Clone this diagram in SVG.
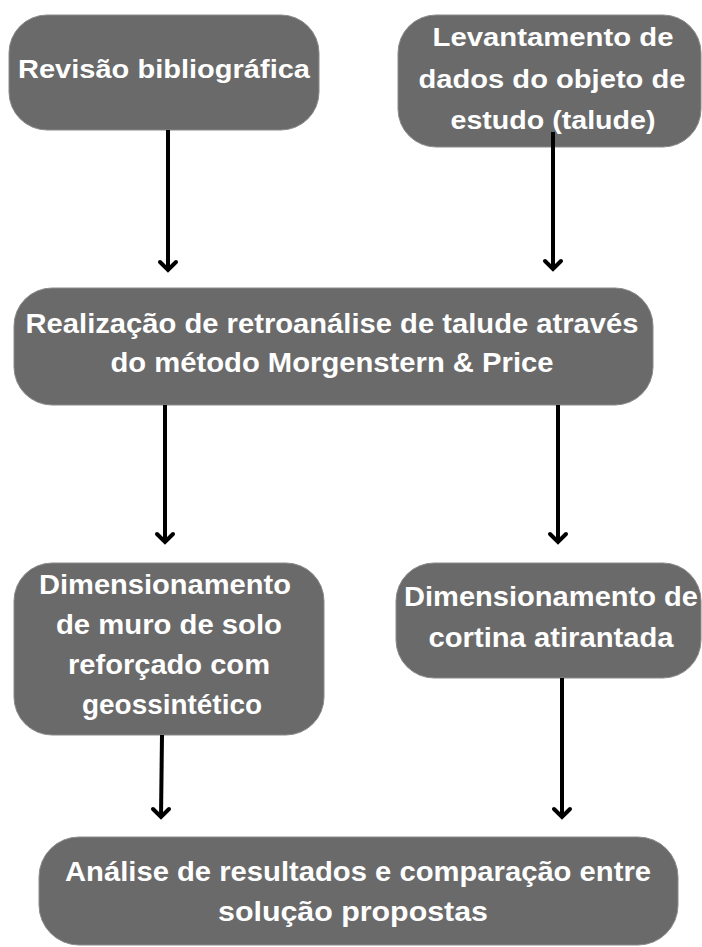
<svg xmlns="http://www.w3.org/2000/svg" width="702" height="947" viewBox="0 0 702 947">
  <style>
    .box { fill: #6a6a6a; stroke: #8a8a8a; stroke-width: 1; }
    .lbl { font-family: "Liberation Sans", Arial, sans-serif; font-weight: bold; fill: #ffffff; text-anchor: middle; }
    .wire { stroke: #000000; stroke-width: 4; fill: none; }
    .head { stroke: #000000; stroke-width: 4; fill: none; stroke-linecap: round; stroke-linejoin: miter; }
  </style>
  <rect width="702" height="947" fill="#ffffff"/>

  <g id="revisao">
    <rect class="box" x="9" y="15" width="310" height="115" rx="38"/>
    <text class="lbl" font-size="26" x="164" y="78" textLength="292" lengthAdjust="spacingAndGlyphs">Revisão bibliográfica</text>
  </g>

  <g id="levantamento">
    <rect class="box" x="398" y="15" width="303" height="132" rx="38"/>
    <text class="lbl" font-size="26" x="553" y="46" textLength="241" lengthAdjust="spacingAndGlyphs">Levantamento de</text>
    <text class="lbl" font-size="26" x="552" y="88" textLength="267" lengthAdjust="spacingAndGlyphs">dados do objeto de</text>
    <text class="lbl" font-size="26" x="553" y="129" textLength="205" lengthAdjust="spacingAndGlyphs">estudo (talude)</text>
  </g>

  <g id="retroanalise">
    <rect class="box" x="14" y="288" width="639" height="117" rx="38"/>
    <text class="lbl" font-size="28" x="332" y="333" textLength="613" lengthAdjust="spacingAndGlyphs">Realização de retroanálise de talude através</text>
    <text class="lbl" font-size="28" x="332" y="372" textLength="443" lengthAdjust="spacingAndGlyphs">do método Morgenstern &amp; Price</text>
  </g>

  <g id="muro">
    <rect class="box" x="14" y="563" width="310" height="172" rx="38"/>
    <text class="lbl" font-size="27" x="165" y="594" textLength="252" lengthAdjust="spacingAndGlyphs">Dimensionamento</text>
    <text class="lbl" font-size="27" x="169" y="634" textLength="226" lengthAdjust="spacingAndGlyphs">de muro de solo</text>
    <text class="lbl" font-size="27" x="169" y="674" textLength="202" lengthAdjust="spacingAndGlyphs">reforçado com</text>
    <text class="lbl" font-size="27" x="172" y="714" textLength="180" lengthAdjust="spacingAndGlyphs">geossintético</text>
  </g>

  <g id="cortina">
    <rect class="box" x="396" y="563" width="305" height="115" rx="38"/>
    <text class="lbl" font-size="27" x="551" y="606" textLength="294" lengthAdjust="spacingAndGlyphs">Dimensionamento de</text>
    <text class="lbl" font-size="27" x="551" y="647" textLength="245" lengthAdjust="spacingAndGlyphs">cortina atirantada</text>
  </g>

  <g id="analise">
    <rect class="box" x="39" y="837" width="639" height="108" rx="40"/>
    <text class="lbl" font-size="28" x="358" y="881" textLength="586" lengthAdjust="spacingAndGlyphs">Análise de resultados e comparação entre</text>
    <text class="lbl" font-size="28" x="353" y="921" textLength="270" lengthAdjust="spacingAndGlyphs">solução propostas</text>
  </g>

  <g id="connectors">
    <line class="wire" x1="168" y1="130" x2="168" y2="270"/>
    <polyline class="head" points="160,262 168,270 176,262"/>
    <line class="wire" x1="553" y1="132" x2="553" y2="269"/>
    <polyline class="head" points="545,261 553,269 561,261"/>
    <line class="wire" x1="165" y1="405" x2="165" y2="542"/>
    <polyline class="head" points="157,534 165,542 173,534"/>
    <line class="wire" x1="558" y1="405" x2="558" y2="542"/>
    <polyline class="head" points="550,534 558,542 566,534"/>
    <line class="wire" x1="162" y1="735" x2="161" y2="817"/>
    <polyline class="head" points="153,809 161,817 169,809"/>
    <line class="wire" x1="562" y1="678" x2="562" y2="817"/>
    <polyline class="head" points="554,809 562,817 570,809"/>
  </g>
</svg>
